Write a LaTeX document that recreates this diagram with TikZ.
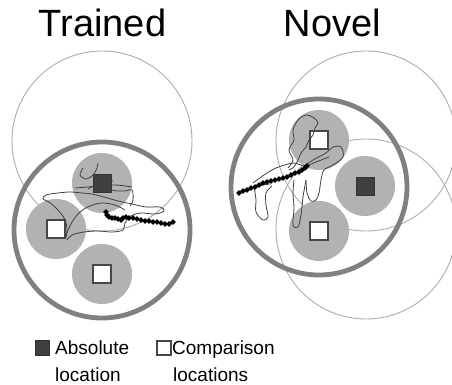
\documentclass[tikz,border=0pt]{standalone}
\usepackage{fontspec}
\setmainfont{Liberation Sans}
\begin{document}
\begin{tikzpicture}[x=1pt,y=-1pt,
  thinring/.style={draw=black!32, line width=0.9pt},
  thickring/.style={draw=black!50, line width=4.8pt},
  zone/.style={circle, fill=black!30, draw=none, minimum size=60pt, inner sep=0pt},
  absbox/.style={draw=black!80, fill=black!75, minimum size=18pt, inner sep=0pt, line width=1pt},
  cmpbox/.style={draw=black!72, fill=white, minimum size=18pt, inner sep=0pt, line width=1.3pt},
  trail/.style={draw=black!75, line width=0.8pt},
  track/.style={draw=black, line width=1.4pt},
  title/.style={font=\fontsize{38}{40}\selectfont, anchor=base, inner sep=0pt},
  legend/.style={font=\fontsize{19}{22}\selectfont, anchor=base west, inner sep=0pt}
]
% canvas
\fill[white] (0,0) rectangle (452,385);
\useasboundingbox (0,0) rectangle (452,385);

% ---------- titles ----------
\node[title] (ttrained) at (102.5,37) {Trained};
\node[title] (tnovel) at (332.5,37) {Novel};

% ---------- Trained arena ----------
\draw[thinring] (102,141) circle [radius=90];
\node[zone] (tzA) at (102,183) {};
\node[zone] (tzB) at (56,229) {};
\node[zone] (tzC) at (102,274) {};
\draw[thickring] (102,230) circle [radius=88];
\node[absbox] (tabs) at (102,183) {};
\node[cmpbox] (tcmpB) at (56,229) {};
\node[cmpbox] (tcmpC) at (102,274) {};

% wandering trails
\draw[trail] plot[smooth, tension=0.55] coordinates {(66,238) (67,228) (64,218) (57,209) (49,202) (43,199) (46,195) (58,193) (70,192) (82,193) (92,194) (104,197) (118,201) (132,204) (146,207) (160,207) (164,211) (155,214) (141,213) (131,216) (125,223) (123,230) (112,232) (98,231) (84,232) (72,235) (67,240)};
\draw[trail] plot[smooth, tension=0.6] coordinates {(67,233) (72,222) (80,212) (90,206) (102,203) (115,205) (125,210)};
\draw[trail] plot[smooth, tension=0.5] coordinates {(83,168) (80,175) (86,179) (93,175) (97,168) (98,163)};
\draw[trail] plot[smooth, tension=0.5] coordinates {(93,176) (100,182) (112,190) (124,191) (132,190) (133,200) (130,206)};
\draw[trail] plot[smooth, tension=0.5] coordinates {(75,188) (88,187) (102,186) (116,185) (132,187)};
\draw[trail] plot[smooth, tension=0.5] coordinates {(88,189) (97,184) (106,180) (113,181)};

% recorded track
\draw[track] plot[mark=*, mark size=1.9pt] coordinates {(106,212) (107,215) (109,217) (112,218) (115,218) (118,219) (121,220) (123,218) (126,217) (129,218) (133,218) (137,219) (141,220) (145,221) (149,221) (153,222) (157,222) (161,223) (165,224) (169,224) (173,222)};

% ---------- Novel arena ----------
\draw[thinring] (366,141) circle [radius=90];
\draw[thinring] (366,229) circle [radius=90];
\node[zone] (nzA) at (319,140) {};
\node[zone] (nzB) at (365,186) {};
\node[zone] (nzC) at (319,231) {};
\draw[thickring] (319,187) circle [radius=88];
\node[cmpbox] (ncmpA) at (319,140) {};
\node[absbox] (nabs) at (365,186) {};
\node[cmpbox] (ncmpC) at (319,231) {};

% wandering trails
\draw[trail] plot[smooth, tension=0.55] coordinates {(289,170) (294,167) (298,160) (301,153) (306,147) (309,140) (313,135) (315,128) (318,123) (314,118) (306,115) (298,120) (293,130) (294,140) (289,150) (293,160) (288,168)};
\draw[trail] plot[smooth, tension=0.55] coordinates {(303,167) (313,160) (326,153) (333,147) (341,147) (343,157) (333,165) (324,170) (321,180) (319,193) (316,200) (311,201) (307,193) (306,180)};
\draw[trail] plot[smooth, tension=0.55] coordinates {(306,180) (303,197) (301,215) (298,227) (293,225) (294,208) (293,193) (294,180)};
\draw[trail] plot[smooth, tension=0.55] coordinates {(270,184) (262,185) (255,188) (256,200) (256,212) (263,220) (268,217) (266,205) (266,193) (272,186)};
\draw[trail] plot[smooth, tension=0.5] coordinates {(253,183) (264,175) (276,168) (293,163) (305,166) (316,162) (329,157)};

% recorded track
\draw[track] plot[mark=*, mark size=1.9pt] coordinates {(239,193) (243,191) (247,190) (251,188) (255,187) (259,185) (263,183) (267,182) (271,181) (275,180) (279,179) (283,178) (287,177) (291,175) (295,173) (299,172) (302,170) (305,168) (307,166)};

% ---------- key ----------
\node[absbox, minimum size=14.5pt] (keyabs) at (42.5,348) {};
\node[legend] (keyabslabA) at (55,354) {Absolute};
\node[legend] (keyabslabB) at (55,381) {location};
\node[cmpbox, minimum size=14pt, line width=1.1pt] (keycmp) at (164,348) {};
\node[legend] (keycmplabA) at (172,354) {Comparison};
\node[legend] (keycmplabB) at (173,381) {locations};
\end{tikzpicture}
\end{document}
